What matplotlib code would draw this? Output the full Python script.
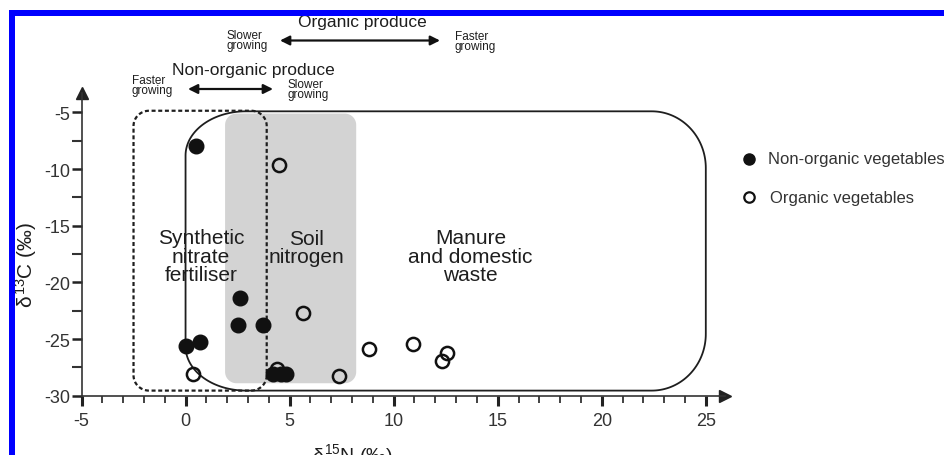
import numpy as np
import matplotlib
matplotlib.use("Agg")
import matplotlib.pyplot as plt
from matplotlib.patches import Polygon, Rectangle, FancyArrowPatch
from matplotlib.lines import Line2D
from matplotlib.ticker import MultipleLocator

# ---------------- data ----------------
nonorg_n = [0.5, 2.6, 2.5, 3.7, 0.0, 0.7, 4.2, 4.6, 4.85]
nonorg_c = [-8.0, -21.4, -23.8, -23.8, -25.6, -25.3, -28.1, -28.1, -28.1]
org_n = [4.5, 5.65, 0.35, 4.4, 7.35, 8.8, 10.95, 12.3, 12.55]
org_c = [-9.65, -22.7, -28.1, -27.6, -28.3, -25.9, -25.4, -26.9, -26.2]
series_labels = ["Non-organic vegetables", "Organic vegetables"]
x_ticks = [-5, 0, 5, 10, 15, 20, 25]
y_ticks = [-5, -10, -15, -20, -25, -30]

# regions (x0, x1, y0, y1)
synthetic_box = (-2.5, 3.9, -29.55, -4.85)
soil_box = (1.9, 8.2, -28.9, -5.1)
manure_box = (0.0, 25.0, -29.55, -4.9)
region_labels = ["Synthetic\nnitrate\nfertiliser", "Soil\nnitrogen", "Manure\nand domestic\nwaste"]

plt.rcParams['font.family'] = ['Liberation Sans', 'DejaVu Sans']
plt.rcParams['mathtext.fontset'] = 'custom'
plt.rcParams['mathtext.rm'] = 'Liberation Sans'
plt.rcParams['mathtext.it'] = 'Liberation Sans'

W, H = 945, 456
fig = plt.figure(figsize=(W / 100, H / 100), dpi=100)

def fx(px):
    return px / W

def fy(py):
    return 1 - py / H

xl, xr = -5, 25.9
yb, yt = -30, -3.3
ppx = 20.81
ppy = 11.33
ax_left = 81.5
ax_bottom_px = 396.7
ax = fig.add_axes([fx(ax_left), fy(ax_bottom_px), (xr - xl) * ppx / W, (yt - yb) * ppy / H])
ax.set_xlim(xl, xr)
ax.set_ylim(yb, yt)
ax.patch.set_alpha(0)

ink = '#1e1e1e'
for s in ['top', 'right']:
    ax.spines[s].set_visible(False)
for s in ['left', 'bottom']:
    ax.spines[s].set_color('#333333')
    ax.spines[s].set_linewidth(1.2)

ax.set_xticks(x_ticks)
ax.set_yticks(y_ticks)
ax.set_xticklabels([str(v) for v in x_ticks])
ax.set_yticklabels([str(v) for v in y_ticks])
ax.xaxis.set_minor_locator(MultipleLocator(1))
ax.yaxis.set_minor_locator(MultipleLocator(2.5))
ax.tick_params(axis='x', which='major', length=7, width=2.2, color='#222222', pad=5,
               labelsize=13, labelcolor='#333333')
ax.tick_params(axis='x', which='minor', length=5, width=1.3, color='#333333')
ax.tick_params(axis='y', which='major', length=7, width=1.8, color='#222222', pad=1,
               labelsize=13, labelcolor='#333333')
ax.tick_params(axis='y', which='minor', length=7, width=1.5, color='#333333')

# axis arrow heads
ax.plot([1], [0], marker='>', color='#222222', markersize=9, transform=ax.transAxes, clip_on=False)
ax.plot([0], [1], marker='^', color='#222222', markersize=9, transform=ax.transAxes, clip_on=False)


def rounded(box, rxl, ryl, rxr, ryr, n=40):
    x0, x1, y0, y1 = box
    pts = []
    a = np.linspace(-np.pi / 2, 0, n)
    pts += list(zip(x1 - rxr + rxr * np.cos(a), y0 + ryr + ryr * np.sin(a)))
    a = np.linspace(0, np.pi / 2, n)
    pts += list(zip(x1 - rxr + rxr * np.cos(a), y1 - ryr + ryr * np.sin(a)))
    a = np.linspace(np.pi / 2, np.pi, n)
    pts += list(zip(x0 + rxl + rxl * np.cos(a), y1 - ryl + ryl * np.sin(a)))
    a = np.linspace(np.pi, 1.5 * np.pi, n)
    pts += list(zip(x0 + rxl + rxl * np.cos(a), y0 + ryl + ryl * np.sin(a)))
    return np.array(pts)

ax.add_patch(Polygon(rounded(soil_box, 0.55, 1.0, 0.55, 1.0), closed=True,
                     facecolor='#d3d3d3', edgecolor='none', zorder=1))
ax.add_patch(Polygon(rounded(synthetic_box, 0.75, 1.35, 0.75, 1.35), closed=True,
                     facecolor='none', edgecolor=ink, lw=1.6, linestyle=(0, (1.8, 1.2)), zorder=2))
ax.add_patch(Polygon(rounded(manure_box, 2.9, 3.9, 2.6, 5.0), closed=True,
                     facecolor='none', edgecolor=ink, lw=1.3, zorder=2))

ax.text(0.75, -17.7, region_labels[0], ha='center', va='center', fontsize=15,
        linespacing=0.97, color=ink, zorder=4)
ax.text(5.8, -16.9, region_labels[1], ha='center', va='center', fontsize=15,
        linespacing=0.97, color=ink, zorder=4)
ax.text(13.7, -17.7, region_labels[2], ha='center', va='center', fontsize=15,
        linespacing=0.97, color=ink, zorder=4)

ax.plot(org_n, org_c, linestyle='none', marker='o', markersize=9.5, markerfacecolor='none',
        markeredgecolor='#111111', markeredgewidth=1.8, zorder=5)
ax.plot(nonorg_n, nonorg_c, linestyle='none', marker='o', markersize=10.5, markerfacecolor='#111111',
        markeredgecolor='#111111', zorder=6)

# axis labels
fig.text(fx(352), fy(461), r'$\delta^{15}$N (‰)', ha='center', va='baseline', fontsize=14, color=ink)
fig.text(fx(26), fy(265), r'$\delta^{13}$C (‰)', ha='center', va='center', rotation=90,
         fontsize=15, color=ink)

# legend
fig.add_artist(Line2D([fx(749)], [fy(160)], marker='o', markersize=8, color='#111111',
                      linestyle='none', transform=fig.transFigure))
fig.add_artist(Line2D([fx(749)], [fy(198)], marker='o', markersize=7.5, markerfacecolor='none',
                      markeredgecolor='#111111', markeredgewidth=1.6, linestyle='none',
                      transform=fig.transFigure))
fig.text(fx(768), fy(160), series_labels[0], ha='left', va='center', fontsize=12, color='#333333')
fig.text(fx(770), fy(198), series_labels[1], ha='left', va='center', fontsize=12, color='#333333')

# top annotations
small = dict(fontsize=8.5, linespacing=0.85, color=ink, family=['Liberation Sans Narrow', 'Liberation Sans'])


def double_arrow(x0, x1, y):
    fig.add_artist(FancyArrowPatch((fx(x0), fy(y)), (fx(x1), fy(y)), transform=fig.transFigure,
                                   arrowstyle='<|-|>', lw=1.6, color='#111111', mutation_scale=14,
                                   shrinkA=0, shrinkB=0))

fig.text(fx(362), fy(27), 'Organic produce', ha='center', va='baseline', fontsize=12.5, color=ink)
fig.text(fx(227), fy(41), 'Slower\ngrowing', ha='left', va='center', **small)
fig.text(fx(455), fy(42), 'Faster\ngrowing', ha='left', va='center', **small)
double_arrow(280, 440, 41.5)

fig.text(fx(253), fy(75), 'Non-organic produce', ha='center', va='baseline', fontsize=12.5, color=ink)
fig.text(fx(132), fy(86), 'Faster\ngrowing', ha='left', va='center', **small)
fig.text(fx(288), fy(90), 'Slower\ngrowing', ha='left', va='center', **small)
double_arrow(188, 273, 90)

# blue frame
fig.patches.append(Rectangle((fx(9.5), 0), fx(15.5) - fx(9.5), fy(11) - 0, transform=fig.transFigure,
                             facecolor='#0000ff', edgecolor='none', zorder=20))
fig.patches.append(Rectangle((fx(9.5), fy(16.5)), 1 - fx(9.5), fy(11) - fy(16.5), transform=fig.transFigure,
                             facecolor='#0000ff', edgecolor='none', zorder=20))

fig.savefig('out.png', dpi=100)
